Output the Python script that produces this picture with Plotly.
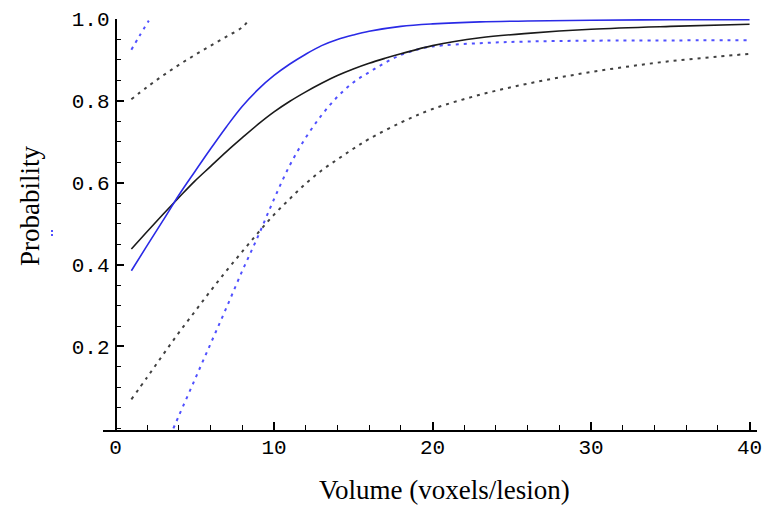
import plotly.graph_objects as go

# ---- data ----
x_fit = [1, 2, 3, 4, 5, 6, 7, 8, 9, 10, 11, 12, 13, 14, 15, 16, 17, 18, 20, 23, 26, 30, 35, 40]
black_fit = [0.438, 0.481, 0.523, 0.564, 0.604, 0.640, 0.676, 0.710, 0.743, 0.773, 0.799, 0.822,
             0.843, 0.862, 0.878, 0.892, 0.904, 0.915, 0.935, 0.954, 0.965, 0.975, 0.982, 0.987]

x_blue = [1, 2, 3, 4, 5, 6, 7, 8, 9, 10, 11, 12, 13, 14, 15, 16, 18, 20, 23, 26, 30, 35, 40]
blue_fit = [0.385, 0.447, 0.508, 0.57, 0.627, 0.683, 0.737, 0.787, 0.828, 0.862, 0.89, 0.914,
            0.935, 0.95, 0.961, 0.97, 0.982, 0.988, 0.993, 0.995, 0.997, 0.998, 0.998]

x_black_lo = [1, 2, 3, 4, 5, 6, 7, 8, 9, 10, 11, 12, 13, 14, 15, 16, 18, 20, 23, 26, 29, 32, 35, 38, 40]
black_lo = [0.071, 0.125, 0.18, 0.234, 0.285, 0.336, 0.385, 0.432, 0.478, 0.522, 0.561, 0.598,
            0.63, 0.657, 0.683, 0.707, 0.747, 0.78, 0.815, 0.842, 0.864, 0.882, 0.897, 0.908, 0.915]

x_black_hi = [1, 2, 3, 4, 5, 6, 7, 8, 8.45]
black_hi = [0.804, 0.834, 0.862, 0.888, 0.912, 0.935, 0.957, 0.98, 1.0]

x_blue_lo = [3.65, 4, 5, 6, 7, 8, 9, 10, 11, 12, 13, 14, 15, 16, 17, 18, 19, 20, 23, 26, 30, 40]
blue_lo = [0.0, 0.031, 0.119, 0.207, 0.295, 0.385, 0.47, 0.56, 0.643, 0.71, 0.765, 0.81,
           0.845, 0.87, 0.893, 0.912, 0.925, 0.933, 0.941, 0.945, 0.947, 0.948]

x_blue_hi = [1, 1.5, 2.1]
blue_hi = [0.925, 0.958, 0.996]

x_ticks = [0, 10, 20, 30, 40]
y_ticks = [0.2, 0.4, 0.6, 0.8, 1.0]
y_tick_text = ["0.2", "0.4", "0.6", "0.8", "1.0"]

BLUE = "#2a2ae6"
BLUE_DOT = "#5050ff"
BLACK = "#1a1a1a"
BLACK_DOT = "#404040"
DOT = "3px,5px"

fig = go.Figure()
fig.add_trace(go.Scatter(x=x_black_lo, y=black_lo, mode="lines", line_shape="spline",
                         line=dict(color=BLACK_DOT, width=2, dash=DOT)))
fig.add_trace(go.Scatter(x=x_black_hi, y=black_hi, mode="lines", line_shape="spline",
                         line=dict(color=BLACK_DOT, width=2, dash=DOT)))
fig.add_trace(go.Scatter(x=x_blue_lo, y=blue_lo, mode="lines", line_shape="spline",
                         line=dict(color=BLUE_DOT, width=2, dash=DOT)))
fig.add_trace(go.Scatter(x=x_blue_hi, y=blue_hi, mode="lines", line_shape="spline",
                         line=dict(color=BLUE_DOT, width=2, dash=DOT)))
fig.add_trace(go.Scatter(x=x_fit, y=black_fit, mode="lines", line_shape="spline",
                         line=dict(color=BLACK, width=1.6)))
fig.add_trace(go.Scatter(x=x_blue, y=blue_fit, mode="lines", line_shape="spline",
                         line=dict(color=BLUE, width=1.6)))

# the page body has an 8px margin, so the figure is drawn 8px smaller and offset
x_lo, x_hi = -0.79, 40.47
TICKFONT = dict(family="Liberation Mono, Courier New, monospace", size=21, color="black")
fig.update_layout(
    width=755, height=500,
    margin=dict(l=95, r=6, t=11, b=78),
    paper_bgcolor="white", plot_bgcolor="white",
    showlegend=False,
    xaxis=dict(range=[x_lo, x_hi], tickvals=x_ticks, ticktext=[str(v) for v in x_ticks],
               automargin=False,
               showgrid=False, zeroline=False, showline=True, linecolor="black", linewidth=1.5,
               ticks="inside", ticklen=8, tickwidth=1.5, tickcolor="black",
               minor=dict(dtick=2, tick0=0, ticks="inside", ticklen=5, tickwidth=1.2, tickcolor="black"),
               tickfont=TICKFONT, ticklabelstandoff=-3),
    yaxis=dict(range=[-0.004, 1.0], tickvals=y_ticks, ticktext=y_tick_text,
               automargin=False,
               anchor="free", position=(0 - x_lo) / (x_hi - x_lo),
               showgrid=False, zeroline=False, showline=True, linecolor="black", linewidth=1.5,
               ticks="inside", ticklen=8, tickwidth=1.5, tickcolor="black",
               minor=dict(dtick=0.05, tick0=0, ticks="inside", ticklen=5, tickwidth=1.2, tickcolor="black"),
               tickfont=TICKFONT, ticklabelstandoff=1),
    annotations=[
        dict(text="Volume (voxels/lesion)", xref="paper", yref="paper",
             x=(444 - 103) / 654, y=(430 - 490) / 411, showarrow=False,
             xanchor="center", yanchor="middle",
             font=dict(family="Liberation Serif, Times New Roman, serif", size=27, color="black")),
        dict(text="Probability", xref="paper", yref="paper", textangle=-90,
             x=(30 - 103) / 654, y=(430 - 206) / 411, showarrow=False,
             xanchor="center", yanchor="middle",
             font=dict(family="Liberation Serif, Times New Roman, serif", size=27, color="black")),
    ],
    shapes=[
        dict(type="rect", xref="paper", yref="paper",
             x0=(51 - 103) / 654, x1=(53 - 103) / 654, y0=(430 - 232) / 411, y1=(430 - 230) / 411,
             fillcolor=BLUE_DOT, line=dict(width=0)),
        dict(type="rect", xref="paper", yref="paper",
             x0=(51 - 103) / 654, x1=(53 - 103) / 654, y0=(430 - 236) / 411, y1=(430 - 234) / 411,
             fillcolor=BLUE_DOT, line=dict(width=0)),
    ],
)

fig.write_html("out.html")
